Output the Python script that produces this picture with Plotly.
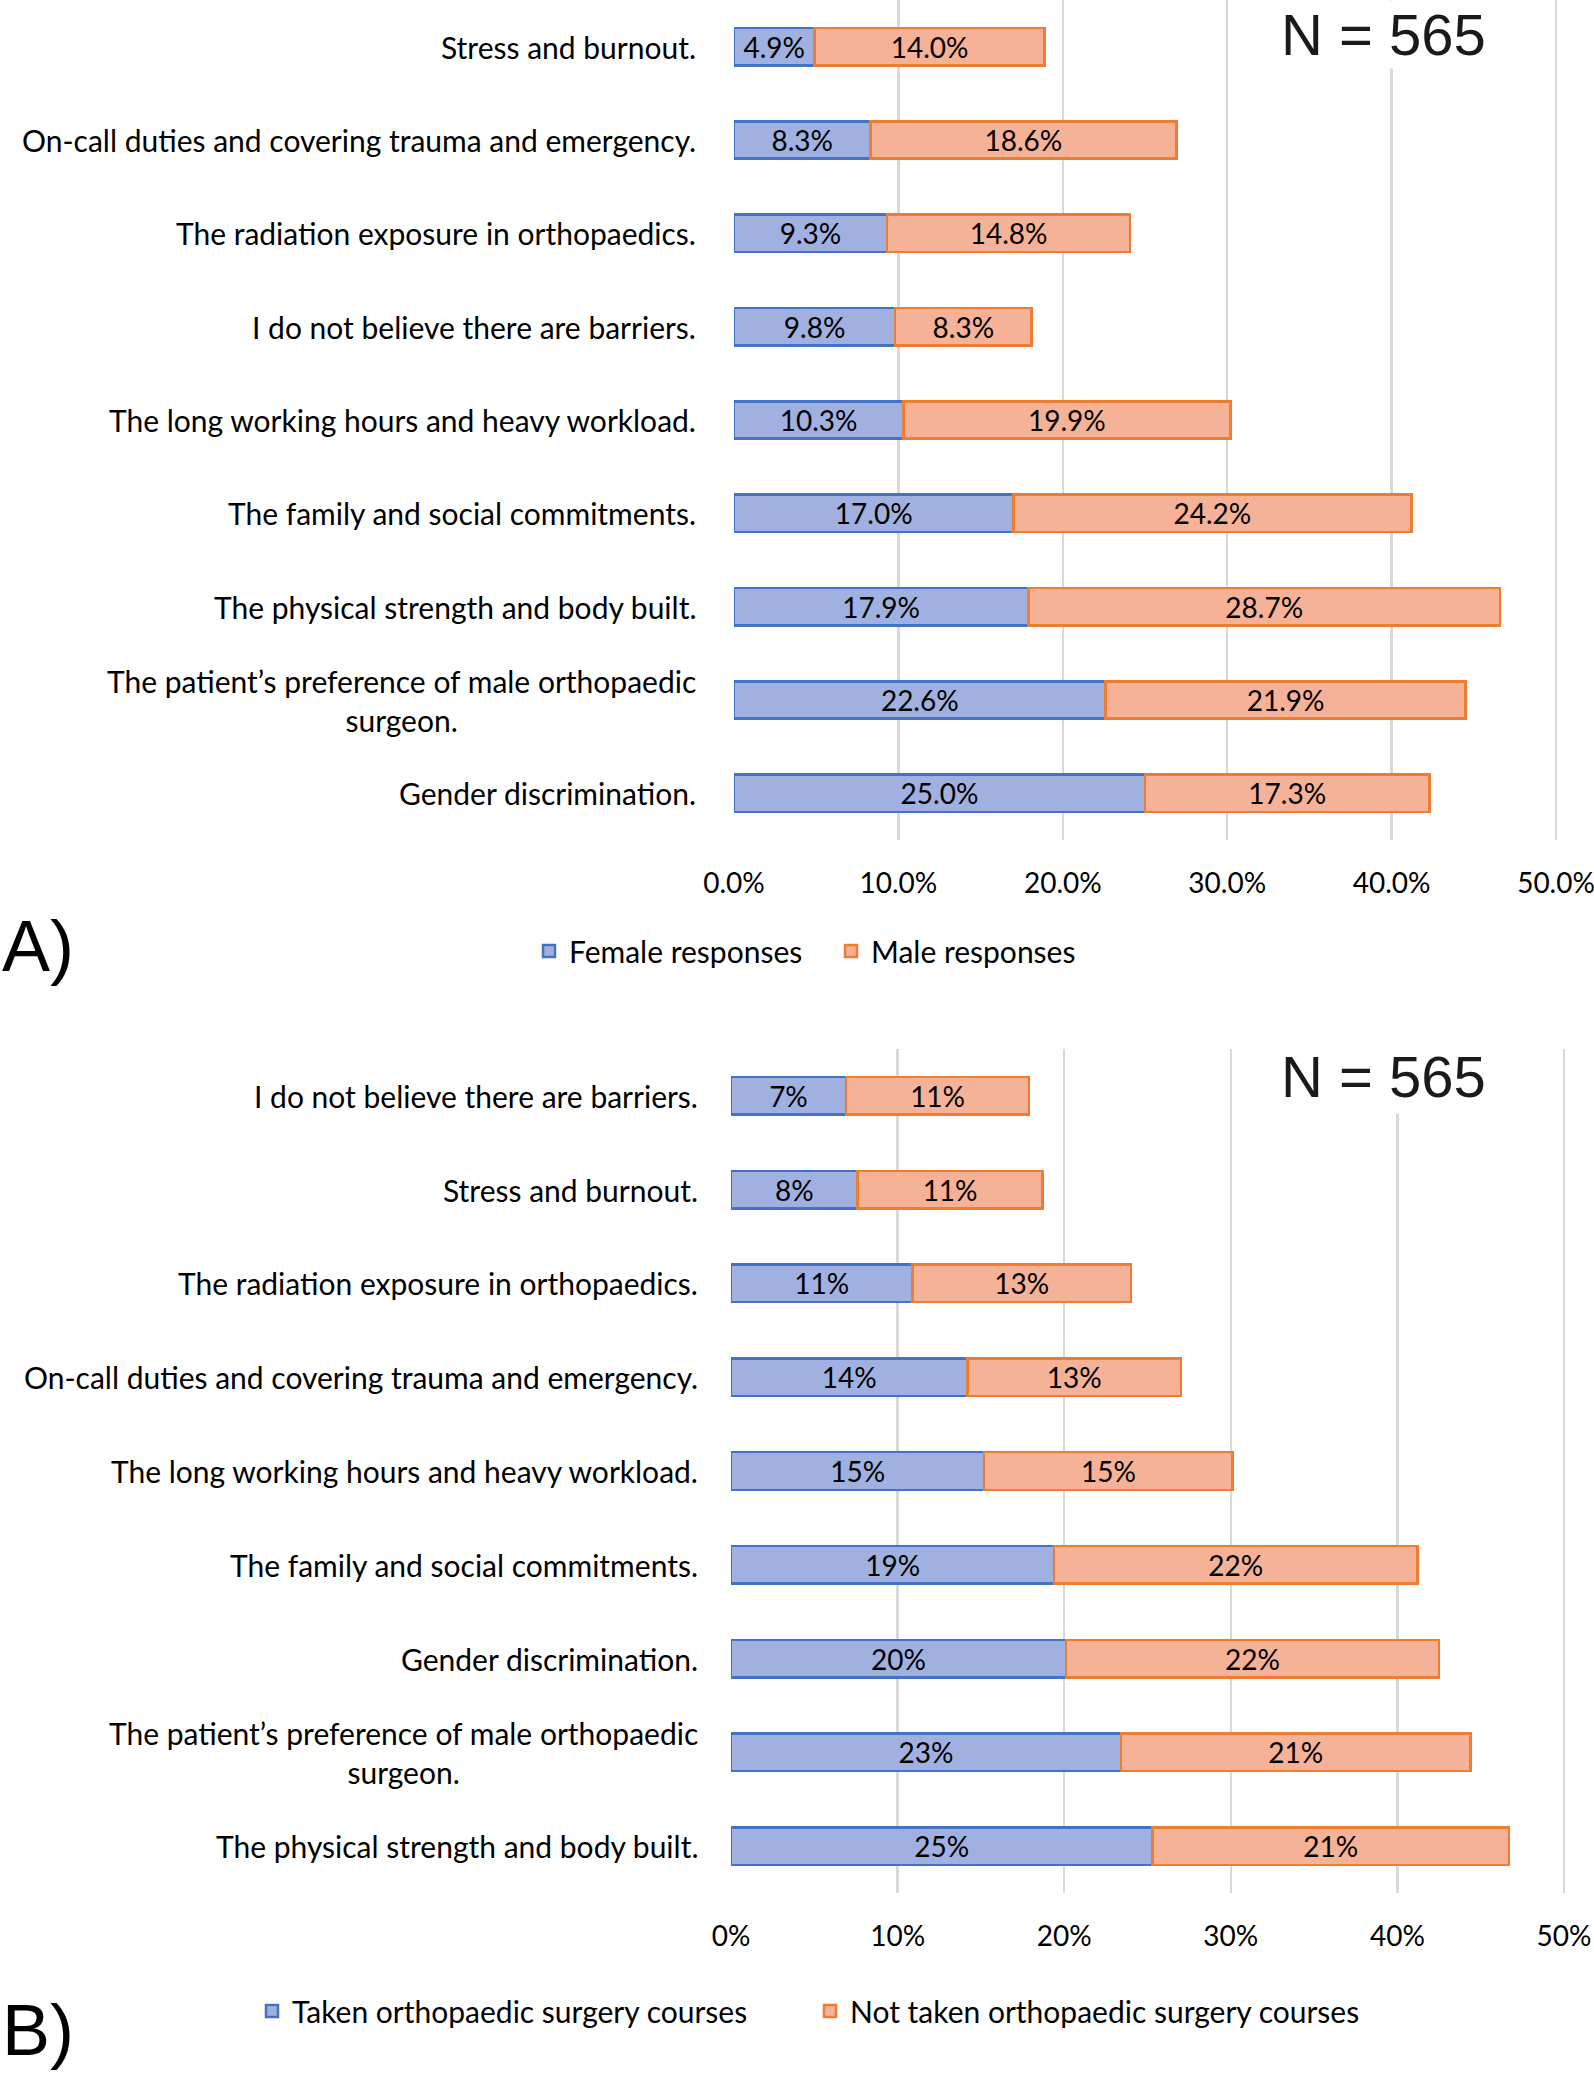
import plotly.graph_objects as go

# ---------------- Data ----------------
cats_a = [
    "Stress and burnout.",
    "On-call duties and covering trauma and emergency.",
    "The radiation exposure in orthopaedics.",
    "I do not believe there are barriers.",
    "The long working hours and heavy workload.",
    "The family and social commitments.",
    "The physical strength and body built.",
    "The patient’s preference of male orthopaedic<br>surgeon.",
    "Gender discrimination.",
]
female_a = [4.9, 8.3, 9.3, 9.8, 10.3, 17.0, 17.9, 22.6, 25.0]
male_a = [14.0, 18.6, 14.8, 8.3, 19.9, 24.2, 28.7, 21.9, 17.3]

cats_b = [
    "I do not believe there are barriers.",
    "Stress and burnout.",
    "The radiation exposure in orthopaedics.",
    "On-call duties and covering trauma and emergency.",
    "The long working hours and heavy workload.",
    "The family and social commitments.",
    "Gender discrimination.",
    "The patient’s preference of male orthopaedic<br>surgeon.",
    "The physical strength and body built.",
]
taken_b = [6.9, 7.6, 10.9, 14.2, 15.2, 19.4, 20.1, 23.4, 25.3]
not_taken_b = [11.0, 11.1, 13.1, 12.8, 14.9, 21.8, 22.4, 21.0, 21.4]

x_ticks = [0, 10, 20, 30, 40, 50]
x_ticktext_a = [f"{v:.1f}%" for v in x_ticks]
x_ticktext_b = [f"{v:d}%" for v in x_ticks]
n_text = "N = 565"

# ---------------- Style ----------------
FONT = "Lato"
BLUE_FILL, BLUE_LINE = "#A0B1E1", "#4472C4"
ORANGE_FILL, ORANGE_LINE = "#F5B296", "#ED7D31"
W, H = 1594, 2077

fig = go.Figure()


def add_bars(cats, v1, v2, name1, name2, xa, ya, legend, fmt):
    for vals, name, fill, line in ((v1, name1, BLUE_FILL, BLUE_LINE),
                                   (v2, name2, ORANGE_FILL, ORANGE_LINE)):
        fig.add_trace(go.Bar(
            y=cats, x=vals, orientation="h", name=name,
            marker=dict(color=fill, line=dict(color=line, width=2.5)),
            text=vals, texttemplate=fmt, textposition="inside",
            insidetextanchor="middle", constraintext="none", textangle=0,
            textfont=dict(family=FONT, size=28, color="black"),
            xaxis=xa, yaxis=ya, legend=legend))


add_bars(cats_a, female_a, male_a, "Female responses", "Male responses",
         "x", "y", "legend", "%{x:.1f}%")
add_bars(cats_b, taken_b, not_taken_b, "Taken orthopaedic surgery courses",
         "Not taken orthopaedic surgery courses", "x2", "y2", "legend2", "%{x:.0f}%")

# category labels (second line centred under the first, block right-anchored)
for c in cats_a:
    fig.add_annotation(x=698 / W, xref="paper", y=c, yref="y", text=c,
                       xanchor="right", yanchor="middle", align="center",
                       showarrow=False,
                       font=dict(family=FONT, size=30, color="black"))
for c in cats_b:
    fig.add_annotation(x=700 / W, xref="paper", y=c, yref="y2", text=c,
                       xanchor="right", yanchor="middle", align="center",
                       showarrow=False,
                       font=dict(family=FONT, size=30, color="black"))

# N annotations (white box hides the 40% gridline behind the text)
fig.add_annotation(x=1383 / W, y=1.0, xref="paper", yref="paper",
                   xanchor="center", yanchor="top",
                   text=n_text, showarrow=False, bgcolor="white", borderpad=1,
                   font=dict(family="Liberation Sans", size=58, color="#1a1a1a"))
fig.add_annotation(x=1383 / W, y=1 - 1076 / H, xref="paper", yref="paper",
                   xanchor="center", yanchor="middle",
                   text=n_text, showarrow=False, bgcolor="white", borderpad=4,
                   font=dict(family="Liberation Sans", size=58, color="#1a1a1a"))

# Panel letters
for letter, cy in (("A)", 946), ("B)", 2030)):
    fig.add_annotation(x=0, y=1 - cy / H, xref="paper", yref="paper", text=letter,
                       xanchor="left", yanchor="middle", showarrow=False,
                       font=dict(family="Liberation Sans", size=72, color="black"))

xcommon = dict(range=[0, 50.15], tickmode="array", tickvals=x_ticks, showgrid=True,
               gridcolor="#D9D9D9", gridwidth=2.5, zeroline=False, showline=False,
               ticks="", ticklabelstandoff=24, automargin=False,
               ticklabeloverflow="allow",
               tickfont=dict(family=FONT, size=28, color="black"), fixedrange=True)
ycommon = dict(autorange="reversed", showticklabels=False, showgrid=False,
               zeroline=False, showline=False, ticks="", automargin=False,
               fixedrange=True)

fig.update_layout(
    width=W, height=H, autosize=False,
    margin=dict(l=0, r=0, t=0, b=0, pad=0, autoexpand=False),
    paper_bgcolor="white", plot_bgcolor="white",
    barmode="stack", bargap=0.6,
    font=dict(family=FONT, color="black"),
    xaxis=dict(domain=[734 / W, 1558.5 / W], anchor="y", ticktext=x_ticktext_a, **xcommon),
    yaxis=dict(domain=[1 - 840 / H, 1.0], anchor="x", **ycommon),
    xaxis2=dict(domain=[731 / W, 1566.5 / W], anchor="y2", ticktext=x_ticktext_b, **xcommon),
    yaxis2=dict(domain=[1 - 1893 / H, 1 - 1049 / H], anchor="x2", **ycommon),
    legend=dict(orientation="h", x=529 / W, xanchor="left", y=1 - 951 / H,
                yanchor="middle", font=dict(family=FONT, size=30, color="black"),
                traceorder="normal", bgcolor="rgba(0,0,0,0)", entrywidth=257),
    legend2=dict(orientation="h", x=252 / W, xanchor="left", y=1 - 2011 / H,
                 yanchor="middle", font=dict(family=FONT, size=30, color="black"),
                 traceorder="normal", bgcolor="rgba(0,0,0,0)", entrywidth=513),
)

fig.write_html("out.html",
               config={"displayModeBar": False, "staticPlot": True},
               post_script="document.body.style.margin='0px';"
                           "document.body.style.overflow='hidden';")
